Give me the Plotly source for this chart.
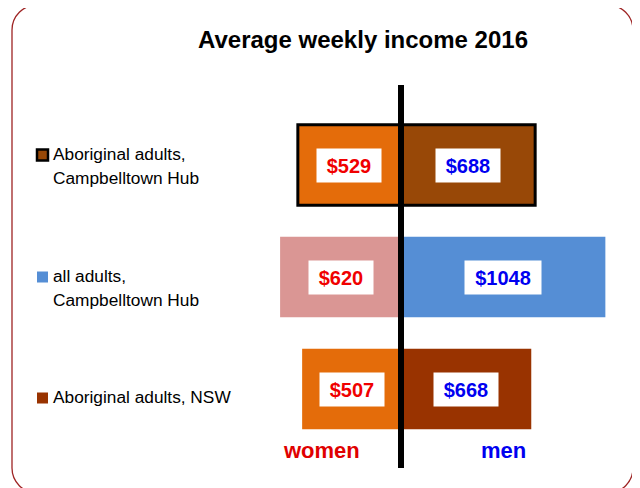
import plotly.graph_objects as go

# ---- data ----
groups = ["Aboriginal adults,\nCampbelltown Hub", "all adults,\nCampbelltown Hub", "Aboriginal adults, NSW"]
cat_keys = ["Aboriginal Campbelltown", "All Campbelltown", "Aboriginal NSW"]
women = [529, 620, 507]
men = [688, 1048, 668]
women_colors = ["#E46C0A", "#DA9694", "#E46C0A"]
men_colors = ["#984807", "#558ED5", "#993300"]
legend_colors = ["#984807", "#558ED5", "#993300"]
title_text = "Average weekly income 2016"
side_labels = ["women", "men"]

OFF = 8  # page body margin
W, H = 640 - OFF, 488 - OFF
def px(x):
    return (x - OFF) / W
def py(y):
    return 1 - (y - OFF) / H

FONT = "Liberation Sans, Arial, sans-serif"

fig = go.Figure()
fig.add_trace(go.Bar(
    y=cat_keys, x=[-v for v in women], orientation="h",
    marker=dict(color=women_colors, line=dict(color="black", width=[3, 0, 0])),
    width=0.72, showlegend=False, hoverinfo="skip"))
fig.add_trace(go.Bar(
    y=cat_keys, x=men, orientation="h",
    marker=dict(color=men_colors, line=dict(color="black", width=[3, 0, 0])),
    width=0.72, showlegend=False, hoverinfo="skip"))

annotations = []
for k, w, m in zip(cat_keys, women, men):
    for val, sign, col in ((w, -1, "#F00000"), (m, 1, "#0000F0")):
        t = f"${val}"
        annotations.append(dict(
            x=sign * val / 2, y=k, xref="x", yref="y", text=f"<b>{t}</b>",
            showarrow=False, bgcolor="white", width=12 * len(t) + 12, height=29,
            borderpad=2, font=dict(family=FONT, size=20, color=col)))

# side labels
annotations.append(dict(x=-410, y=py(465), xref="x", yref="paper", text=f"<b>{side_labels[0]}</b>",
                        showarrow=False, font=dict(family=FONT, size=22, color="#E00000")))
annotations.append(dict(x=528, y=py(465), xref="x", yref="paper", text=f"<b>{side_labels[1]}</b>",
                        showarrow=False, font=dict(family=FONT, size=22, color="#0000F0")))

# legend-like labels
legend_y = [155, 277, 398]
shapes = []
for g, c, ly, i in zip(groups, legend_colors, legend_y, range(3)):
    for j, line in enumerate(g.split("\n")):
        annotations.append(dict(x=px(51), y=py(ly - 1 + 24 * j), xref="paper", yref="paper",
                                xanchor="left", yanchor="middle", text=line, showarrow=False,
                                font=dict(family=FONT, size=17.3, color="black")))
    shapes.append(dict(type="rect", xref="paper", yref="paper",
                       x0=px(37), x1=px(48), y0=py(ly - 5.5), y1=py(ly + 5.5),
                       fillcolor=c, line=dict(color="black", width=2.5 if i == 0 else 0)))

# center line
shapes.append(dict(type="line", xref="x", yref="paper", x0=0, x1=0, y0=py(85), y1=py(468),
                   line=dict(color="black", width=6)))

# rounded border
x0, x1, y0, y1, r = 12, 633, 5, 493, 25
k = r * 0.448
path = (f"M {px(x0+r)},{py(y0)} L {px(x1-r)},{py(y0)} "
        f"C {px(x1-k)},{py(y0)} {px(x1)},{py(y0+k)} {px(x1)},{py(y0+r)} "
        f"L {px(x1)},{py(y1-r)} C {px(x1)},{py(y1-k)} {px(x1-k)},{py(y1)} {px(x1-r)},{py(y1)} "
        f"L {px(x0+r)},{py(y1)} C {px(x0+k)},{py(y1)} {px(x0)},{py(y1-k)} {px(x0)},{py(y1-r)} "
        f"L {px(x0)},{py(y0+r)} C {px(x0)},{py(y0+k)} {px(x0+k)},{py(y0)} {px(x0+r)},{py(y0)} Z")
shapes.append(dict(type="path", xref="paper", yref="paper", path=path,
                   line=dict(color="#9E2424", width=1.3)))

fig.update_layout(
    width=W, height=H, margin=dict(l=0, r=0, t=0, b=0),
    paper_bgcolor="white", plot_bgcolor="white",
    barmode="overlay",
    title=dict(text=f"<b>{title_text}</b>", x=px(363), y=py(40), xanchor="center", yanchor="middle",
               font=dict(family=FONT, size=24, color="black")),
    xaxis=dict(domain=[px(260), px(620)], range=[-723.1, 1123.1], visible=False, fixedrange=True),
    yaxis=dict(domain=[py(470), py(80)], range=[2.723, -0.759], visible=False,
               categoryorder="array", categoryarray=cat_keys, type="category"),
    annotations=annotations, shapes=shapes,
)

fig.write_html("out.html")
